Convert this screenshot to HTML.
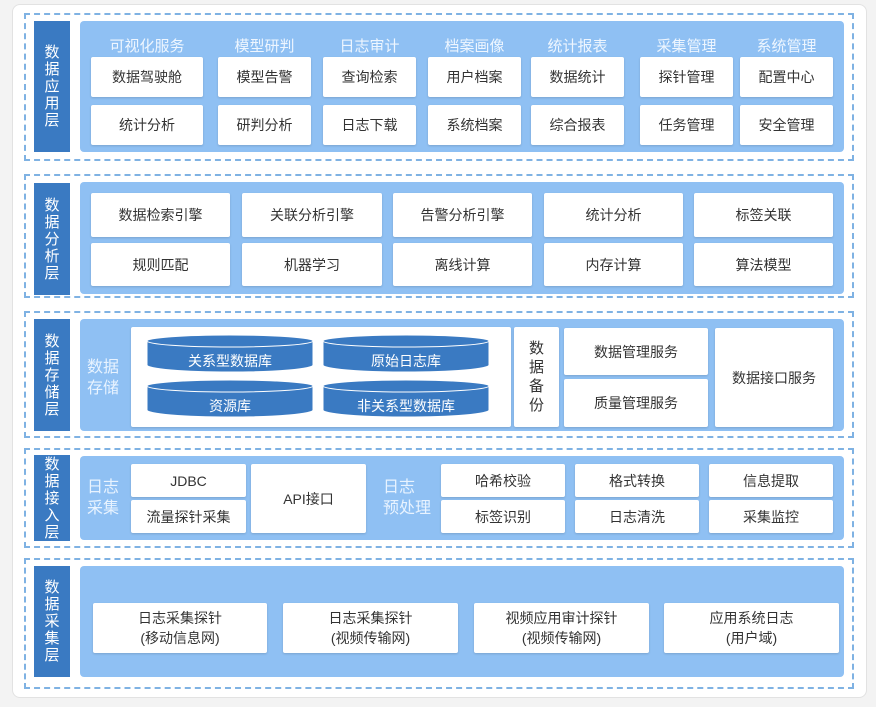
<!DOCTYPE html>
<html><head><meta charset="utf-8"><style>
*{margin:0;padding:0;box-sizing:border-box}
body{width:876px;height:707px;background:#f3f3f3;position:relative;overflow:hidden;font-family:"Liberation Sans","Noto Sans CJK SC",sans-serif}
div{position:absolute}
.card{left:12px;top:4px;width:855px;height:694px;background:#fff;border-radius:8px;border:1px solid #e2e2e2}
.dash{border:2px dashed #7fb2e3;left:24px;width:830px}
.side{left:34px;width:36px;background:#3a7ac2;color:#fff;font-size:15px;line-height:17px;display:flex;align-items:center;justify-content:center;text-align:center}
.side span{width:16px;word-break:break-all}
.pan{left:80px;width:764px;background:#8fc0f3;border-radius:4px}
.b{background:#fff;color:#333;font-size:14px;display:flex;align-items:center;justify-content:center;text-align:center;border-radius:2px;box-shadow:0 1px 2px rgba(0,0,0,.15)}
.h{color:#eef6ff;font-size:15px;text-align:center}
.lab{color:#e8f3ff;font-size:16px;line-height:21px}
</style></head><body>
<div class="card"></div>

<div class="dash" style="top:13px;height:148px"></div>
<div class="side" style="top:21px;height:131px"><span>数据应用层</span></div>
<div class="pan" style="top:21px;height:131px"></div>
<div class="h" style="left:91px;top:35px;width:112px">可视化服务</div>
<div class="h" style="left:218px;top:35px;width:93px">模型研判</div>
<div class="h" style="left:323px;top:35px;width:93px">日志审计</div>
<div class="h" style="left:428px;top:35px;width:93px">档案画像</div>
<div class="h" style="left:531px;top:35px;width:93px">统计报表</div>
<div class="h" style="left:640px;top:35px;width:93px">采集管理</div>
<div class="h" style="left:740px;top:35px;width:93px">系统管理</div>
<div class="b" style="left:91px;top:57px;width:112px;height:40px">数据驾驶舱</div>
<div class="b" style="left:218px;top:57px;width:93px;height:40px">模型告警</div>
<div class="b" style="left:323px;top:57px;width:93px;height:40px">查询检索</div>
<div class="b" style="left:428px;top:57px;width:93px;height:40px">用户档案</div>
<div class="b" style="left:531px;top:57px;width:93px;height:40px">数据统计</div>
<div class="b" style="left:640px;top:57px;width:93px;height:40px">探针管理</div>
<div class="b" style="left:740px;top:57px;width:93px;height:40px">配置中心</div>
<div class="b" style="left:91px;top:105px;width:112px;height:40px">统计分析</div>
<div class="b" style="left:218px;top:105px;width:93px;height:40px">研判分析</div>
<div class="b" style="left:323px;top:105px;width:93px;height:40px">日志下载</div>
<div class="b" style="left:428px;top:105px;width:93px;height:40px">系统档案</div>
<div class="b" style="left:531px;top:105px;width:93px;height:40px">综合报表</div>
<div class="b" style="left:640px;top:105px;width:93px;height:40px">任务管理</div>
<div class="b" style="left:740px;top:105px;width:93px;height:40px">安全管理</div>

<div class="dash" style="top:174px;height:124px"></div>
<div class="side" style="top:183px;height:112px"><span>数据分析层</span></div>
<div class="pan" style="top:182px;height:112px"></div>
<div class="b" style="left:91px;top:193px;width:139px;height:44px">数据检索引擎</div>
<div class="b" style="left:242px;top:193px;width:140px;height:44px">关联分析引擎</div>
<div class="b" style="left:393px;top:193px;width:139px;height:44px">告警分析引擎</div>
<div class="b" style="left:544px;top:193px;width:139px;height:44px">统计分析</div>
<div class="b" style="left:694px;top:193px;width:139px;height:44px">标签关联</div>
<div class="b" style="left:91px;top:243px;width:139px;height:43px">规则匹配</div>
<div class="b" style="left:242px;top:243px;width:140px;height:43px">机器学习</div>
<div class="b" style="left:393px;top:243px;width:139px;height:43px">离线计算</div>
<div class="b" style="left:544px;top:243px;width:139px;height:43px">内存计算</div>
<div class="b" style="left:694px;top:243px;width:139px;height:43px">算法模型</div>

<div class="dash" style="top:311px;height:127px"></div>
<div class="side" style="top:319px;height:112px"><span>数据存储层</span></div>
<div class="pan" style="top:319px;height:112px"></div>
<div class="lab" style="left:87px;top:357px">数据<br>存储</div>
<div class="b" style="left:131px;top:327px;width:380px;height:100px"></div>
<svg style="position:absolute;left:0;top:0" width="876" height="707">
<g fill="#3a7ac2" stroke="#fff" stroke-width="1">
<path d="M147 341 L147 365 A83 7 0 0 0 313 365 L313 341 Z"/><ellipse cx="230" cy="341" rx="83" ry="6"/>
<path d="M323 341 L323 365 A83 7 0 0 0 489 365 L489 341 Z"/><ellipse cx="406" cy="341" rx="83" ry="6"/>
<path d="M147 386 L147 410 A83 7 0 0 0 313 410 L313 386 Z"/><ellipse cx="230" cy="386" rx="83" ry="6"/>
<path d="M323 386 L323 410 A83 7 0 0 0 489 410 L489 386 Z"/><ellipse cx="406" cy="386" rx="83" ry="6"/>
</g>
<g fill="#fff" font-size="14" text-anchor="middle" font-family="Liberation Sans,Noto Sans CJK SC,sans-serif">
<text x="230" y="366">关系型数据库</text><text x="406" y="366">原始日志库</text>
<text x="230" y="411">资源库</text><text x="406" y="411">非关系型数据库</text>
</g></svg>
<div class="b" style="left:514px;top:327px;width:45px;height:100px;font-size:15px;line-height:19px"><span style="width:16px">数据备份</span></div>
<div class="b" style="left:564px;top:328px;width:144px;height:47px">数据管理服务</div>
<div class="b" style="left:564px;top:379px;width:144px;height:48px">质量管理服务</div>
<div class="b" style="left:715px;top:328px;width:118px;height:99px">数据接口服务</div>

<div class="dash" style="top:448px;height:100px"></div>
<div class="side" style="top:455px;height:86px"><span>数据接入层</span></div>
<div class="pan" style="top:456px;height:84px"></div>
<div class="lab" style="left:87px;top:477px">日志<br>采集</div>
<div class="b" style="left:131px;top:464px;width:115px;height:33px">JDBC</div>
<div class="b" style="left:131px;top:500px;width:115px;height:33px">流量探针采集</div>
<div class="b" style="left:251px;top:464px;width:115px;height:69px">API接口</div>
<div class="lab" style="left:383px;top:477px">日志<br>预处理</div>
<div class="b" style="left:441px;top:464px;width:124px;height:33px">哈希校验</div>
<div class="b" style="left:441px;top:500px;width:124px;height:33px">标签识别</div>
<div class="b" style="left:575px;top:464px;width:124px;height:33px">格式转换</div>
<div class="b" style="left:575px;top:500px;width:124px;height:33px">日志清洗</div>
<div class="b" style="left:709px;top:464px;width:124px;height:33px">信息提取</div>
<div class="b" style="left:709px;top:500px;width:124px;height:33px">采集监控</div>

<div class="dash" style="top:558px;height:131px"></div>
<div class="side" style="top:566px;height:111px"><span>数据采集层</span></div>
<div class="pan" style="top:566px;height:111px"></div>
<div class="b" style="left:93px;top:603px;width:174px;height:50px;line-height:20px">日志采集探针<br>(移动信息网)</div>
<div class="b" style="left:283px;top:603px;width:175px;height:50px;line-height:20px">日志采集探针<br>(视频传输网)</div>
<div class="b" style="left:474px;top:603px;width:175px;height:50px;line-height:20px">视频应用审计探针<br>(视频传输网)</div>
<div class="b" style="left:664px;top:603px;width:175px;height:50px;line-height:20px">应用系统日志<br>(用户域)</div>
</body></html>
